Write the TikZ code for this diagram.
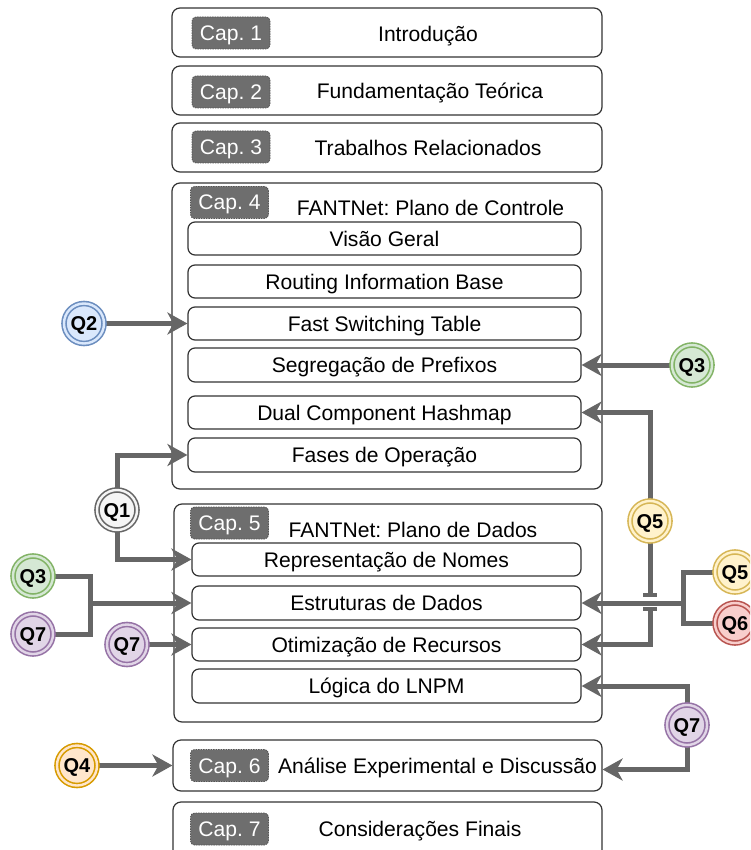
\documentclass[tikz,border=0pt]{standalone}
\usepackage{fontspec}
\setmainfont{Liberation Sans}
\usetikzlibrary{arrows.meta,calc}
\frenchspacing

\definecolor{connc}{HTML}{666666}
\definecolor{framec}{HTML}{333333}
\definecolor{badgef}{HTML}{6E6E6E}
\definecolor{badged}{HTML}{555555}
\definecolor{qgrayF}{HTML}{F5F5F5}\definecolor{qgrayD}{HTML}{666666}
\definecolor{qblueF}{HTML}{DAE8FC}\definecolor{qblueD}{HTML}{6C8EBF}
\definecolor{qgreenF}{HTML}{D5E8D4}\definecolor{qgreenD}{HTML}{82B366}
\definecolor{qyellowF}{HTML}{FFF2CC}\definecolor{qyellowD}{HTML}{D6B656}
\definecolor{qredF}{HTML}{F8CECC}\definecolor{qredD}{HTML}{B85450}
\definecolor{qpurpleF}{HTML}{E1D5E7}\definecolor{qpurpleD}{HTML}{9673A6}
\definecolor{qorangeF}{HTML}{FFE6CC}\definecolor{qorangeD}{HTML}{D79B00}

\pgfdeclarelayer{frames}
\pgfdeclarelayer{conns}
\pgfsetlayers{frames,conns,main}

\newcommand{\txtfont}{\fontsize{21.1}{24}\selectfont}

\begin{document}
\begin{tikzpicture}[x=1pt,y=-1pt,
  chapframe/.style={draw=framec, line width=1.2pt, rounded corners=8pt, inner sep=0pt},
  subbox/.style={draw=framec, line width=1.2pt, rounded corners=7pt, fill=white,
    inner sep=0pt, minimum height=33pt, font=\txtfont, text height=15pt, text depth=0pt},
  ttl/.style={inner sep=0pt, font=\txtfont, text height=15pt, text depth=0pt},
  badge/.style={fill=badgef, draw=badged, dash pattern=on 1.5pt off 1pt, line width=0.8pt,
    rounded corners=4pt, minimum width=78pt, minimum height=32pt, inner sep=0pt,
    text=white, font=\txtfont, text height=15pt, text depth=0pt},
  qc/.style 2 args={circle, minimum size=40pt, inner sep=0pt, draw=#2, fill=#1,
    line width=1.6pt, double=#1, double distance=2.4pt,
    font=\bfseries\fontsize{20}{22}\selectfont, text height=14.3pt, text depth=0pt},
  ln/.style={draw=connc, line width=5pt, line join=miter},
  arr/.style={ln, -{Stealth[length=20pt,width=22pt,inset=6pt]}},
  hopbar/.style={draw=connc, line width=4pt}
]
\useasboundingbox (0,0) rectangle (750,850);
\clip (0,0) rectangle (750,850);

% chapter frames
\begin{pgfonlayer}{frames}
\node[chapframe, minimum width=430pt, minimum height=49pt] (c1) at (387,32.5) {};
\node[chapframe, minimum width=430pt, minimum height=49pt] (c2) at (387,90.5) {};
\node[chapframe, minimum width=430pt, minimum height=49pt] (c3) at (387,147.5) {};
\node[chapframe, minimum width=430pt, minimum height=306pt] (c4) at (387,336) {};
\node[chapframe, minimum width=428pt, minimum height=218pt] (c5) at (388,613) {};
\node[chapframe, minimum width=429pt, minimum height=51pt] (c6) at (387.5,765.5) {};
\node[chapframe, minimum width=429pt, minimum height=68pt] (c7) at (387.5,836) {};
\end{pgfonlayer}

% chapter badges
\node[badge] (b1) at (231,33) {Cap. 1};
\node[badge] (b2) at (231,92) {Cap. 2};
\node[badge] (b3) at (231,147) {Cap. 3};
\node[badge] (b4) at (229.5,202.5) {Cap. 4};
\node[badge] (b5) at (229.5,523) {Cap. 5};
\node[badge] (b6) at (229.5,765.5) {Cap. 6};
\node[badge] (b7) at (229.5,829) {Cap. 7};

% chapter titles
\node[ttl] (t1) at (428,34) {Introdução};
\node[ttl] (t2) at (430,91.5) {Fundamentação Teórica};
\node[ttl] (t3) at (428,148) {Trabalhos Relacionados};
\node[ttl] (t4) at (430.5,207.5) {FANTNet: Plano de Controle};
\node[ttl] (t5) at (413,530) {FANTNet: Plano de Dados};
\node[ttl] (t6) at (437.5,766) {Análise Experimental e Discussão};
\node[ttl] (t7) at (420,828.5) {Considerações Finais};

% sections of chapter 4
\node[subbox, minimum width=393pt] (vis)   at (384.5,238.5) {Visão Geral};
\node[subbox, minimum width=393pt] (rib)   at (384.5,281.5) {Routing Information Base};
\node[subbox, minimum width=393pt] (fst)   at (384.5,323.5) {Fast Switching Table};
\node[subbox, minimum width=393pt, minimum height=34pt] (seg) at (384.5,365) {Segregação de Prefixos};
\node[subbox, minimum width=393pt] (dual)  at (384.5,412.5) {Dual Component Hashmap};
\node[subbox, minimum width=393pt, minimum height=34pt] (fases) at (384.5,455) {Fases de Operação};

% sections of chapter 5
\node[subbox, minimum width=389pt] (rep)  at (386.5,559.5) {Representação de Nomes};
\node[subbox, minimum width=389pt, minimum height=34pt] (est) at (386.5,603) {Estruturas de Dados};
\node[subbox, minimum width=389pt] (otim) at (386.5,644.5) {Otimização de Recursos};
\node[subbox, minimum width=389pt, minimum height=34pt] (lnpm) at (386.5,686) {Lógica do LNPM};

% research questions
\node[qc={qgrayF}{qgrayD}]     (q1)  at (117,510)   {Q1};
\node[qc={qblueF}{qblueD}]     (q2)  at (84,323.5)  {Q2};
\node[qc={qgreenF}{qgreenD}]   (q3r) at (692,365)   {Q3};
\node[qc={qgreenF}{qgreenD}]   (q3l) at (33,576)    {Q3};
\node[qc={qpurpleF}{qpurpleD}] (q7l) at (33,634)    {Q7};
\node[qc={qpurpleF}{qpurpleD}] (q7m) at (127,644.5) {Q7};
\node[qc={qyellowF}{qyellowD}] (q5a) at (650,521)   {Q5};
\node[qc={qyellowF}{qyellowD}] (q5r) at (735,572)   {Q5};
\node[qc={qredF}{qredD}]       (q6)  at (735,623)   {Q6};
\node[qc={qpurpleF}{qpurpleD}] (q7r) at (687,725)   {Q7};
\node[qc={qorangeF}{qorangeD}] (q4)  at (77,765.5)  {Q4};

% junctions and line jump
\coordinate (junL) at (90,603);
\coordinate (junR) at (683,603);
\coordinate (hopA) at (650,595);
\coordinate (hopB) at (650,609);

% connectors
\begin{pgfonlayer}{conns}
\draw[arr] (q2) -- (fst.west);
\draw[arr] (q3r) -- (seg.east);
\draw[arr] (q5a.north) |- (dual.east);
\draw[ln] (q5a.south) -- (hopA);
\draw[arr] (hopB) |- (otim.east);
\draw[hopbar] ($(hopA)+(-7,0)$) -- ($(hopA)+(7,0)$);
\draw[hopbar] ($(hopB)+(-7,0)$) -- ($(hopB)+(7,0)$);
\draw[ln] (q5r.west) -| (junR);
\draw[ln] (q6.west) -| (junR);
\draw[arr] (junR) -- (est.east);
\draw[arr] (q1.north) |- (fases.west);
\draw[arr] (q1.south) |- (rep.west);
\draw[ln] (q3l.east) -| (junL);
\draw[ln] (q7l.east) -| (junL);
\draw[arr] (junL) -- (est.west);
\draw[arr] (q7m) -- (otim.west);
\draw[arr] (q7r.north) |- (lnpm.east);
\draw[arr] (q7r.south) |- ([yshift=-4pt]c6.east);
\draw[arr] (q4) -- (c6.west);
\end{pgfonlayer}
\end{tikzpicture}
\end{document}
